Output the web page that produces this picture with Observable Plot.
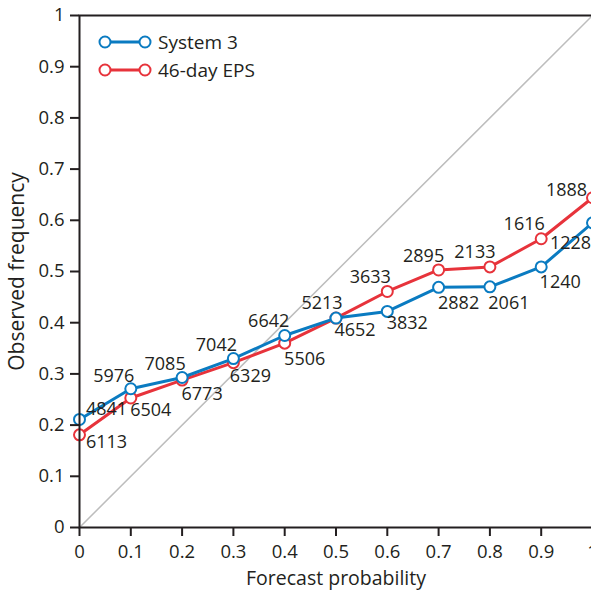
<!DOCTYPE html>
<html><head><meta charset="utf-8">
<script src="https://cdn.jsdelivr.net/npm/d3@7"></script>
<script src="https://cdn.jsdelivr.net/npm/@observablehq/plot@0.6"></script>
<style>
  body { margin: 0; overflow: hidden; background: #fff; }
  #wrap { position: relative; width: 591px; height: 590px; overflow: hidden; font-family: "Open Sans", sans-serif; color: #231f20; }
  #legend { position: absolute; left: 0; top: 0; }
</style>
</head><body>
<div id="wrap"></div>
<script>
// ---- data ----
const forecastProb = [0, 0.1, 0.2, 0.3, 0.4, 0.5, 0.6, 0.7, 0.8, 0.9, 1];
const system3Freq = [0.211, 0.271, 0.293, 0.330, 0.375, 0.409, 0.422, 0.469, 0.470, 0.509, 0.595];
const eps46Freq   = [0.181, 0.253, 0.288, 0.322, 0.360, 0.409, 0.461, 0.503, 0.509, 0.564, 0.644];
const system3Counts = ["4841", "5976", "7085", "7042", "6642", "4652", "3832", "2882", "2061", "1240", "1228"];
const eps46Counts   = ["6113", "6504", "6773", "6329", "5506", "5213", "3633", "2895", "2133", "1616", "1888"];
const seriesNames = ["System 3", "46-day EPS"];
const tickValues = [0, 0.1, 0.2, 0.3, 0.4, 0.5, 0.6, 0.7, 0.8, 0.9, 1];
const diagonal = [0, 1];
const xLabel = "Forecast probability";
const yLabel = "Observed frequency";

// ---- label placement (pixel offsets from each point) ----
const system3LabelOffsets = [[27,-10],[-17,-13],[-17,-13],[-17,-13],[-16,-14],[19,12],[20,12],[20,16],[19,16],[19,15],[-22,20]];
const eps46LabelOffsets   = [[27,7],[20,12],[20,14],[17,14],[20,16],[-14,-15],[-17,-14],[-15,-14],[-15,-15],[-17,-14],[-26,-8]];

const colors = { [seriesNames[0]]: "#0a7bc1", [seriesNames[1]]: "#e7333b" };
const ink = "#231f20";

const makeRows = (name, ys, counts, offs) =>
  forecastProb.map((x, i) => ({ series: name, x, y: ys[i], count: counts[i], dx: offs[i][0], dy: offs[i][1] }));
const s3 = makeRows(seriesNames[0], system3Freq, system3Counts, system3LabelOffsets);
const eps = makeRows(seriesNames[1], eps46Freq, eps46Counts, eps46LabelOffsets);

const fmt = d => String(+d.toFixed(1));

const seriesMarks = (rows) => {
  const c = colors[rows[0].series];
  return [
    Plot.line(rows, { x: "x", y: "y", stroke: c, strokeWidth: 3 }),
    Plot.dot(rows, { x: "x", y: "y", r: 5.5, stroke: c, strokeWidth: 2, fill: "white" })
  ];
};
const labelMarks = (rows) => rows.map(d =>
  Plot.text([d], { x: "x", y: "y", text: "count", dx: d.dx, dy: d.dy, fill: ink, fontSize: 18 })
);

const chart = Plot.plot({
  width: 610,
  height: 590,
  marginLeft: 79,
  marginRight: 18,
  marginTop: 15,
  marginBottom: 63,
  style: { fontFamily: "Open Sans, sans-serif", fontSize: "18px", color: ink, maxWidth: "none", overflow: "visible" },
  x: { domain: [0, 1] },
  y: { domain: [0, 1] },
  marks: [
    Plot.line(diagonal, { x: d => d, y: d => d, stroke: "#bdbdbd", strokeWidth: 1.5 }),
    ...seriesMarks(eps),
    ...seriesMarks(s3),
    ...labelMarks(eps),
    ...labelMarks(s3),
    Plot.frame({ stroke: ink, strokeWidth: 2 }),
    Plot.axisY({ ticks: tickValues, tickSize: 9, strokeWidth: 2, stroke: ink, text: null, label: null }),
    Plot.axisX({ ticks: tickValues, tickSize: 9, strokeWidth: 2, stroke: ink, text: null, label: null }),
    Plot.text(tickValues, { y: d => d, text: fmt, frameAnchor: "left", textAnchor: "end", lineAnchor: "middle", dx: -15, fontSize: 18.5, fill: ink }),
    Plot.text(tickValues, { x: d => d, text: fmt, frameAnchor: "bottom", lineAnchor: "middle", dy: 25, fontSize: 18.5, fill: ink }),
    Plot.text([xLabel], { text: d => d, frameAnchor: "bottom", lineAnchor: "middle", dy: 51, fontSize: 19.5, fill: ink }),
    Plot.text([yLabel], { text: d => d, frameAnchor: "left", textAnchor: "middle", lineAnchor: "middle", rotate: -90, dx: -62, fontSize: 21, fill: ink })
  ]
});

const wrap = document.getElementById("wrap");
wrap.appendChild(chart);

// ---- legend overlay ----
const leg = d3.select(wrap).append("svg").attr("id", "legend").attr("width", 300).attr("height", 100);
seriesNames.forEach((name, i) => {
  const y = 42 + i * 28;
  const g = leg.append("g");
  g.append("line").attr("x1", 105).attr("x2", 145).attr("y1", y).attr("y2", y)
    .attr("stroke", colors[name]).attr("stroke-width", 3);
  [105, 145].forEach(cx => g.append("circle").attr("cx", cx).attr("cy", y).attr("r", 5.5)
    .attr("fill", "white").attr("stroke", colors[name]).attr("stroke-width", 2));
  g.append("text").attr("x", 158).attr("y", y).attr("dy", "0.35em")
    .attr("font-family", "Open Sans, sans-serif").attr("font-size", 19).attr("fill", ink).text(name);
});
</script>
</body></html>
